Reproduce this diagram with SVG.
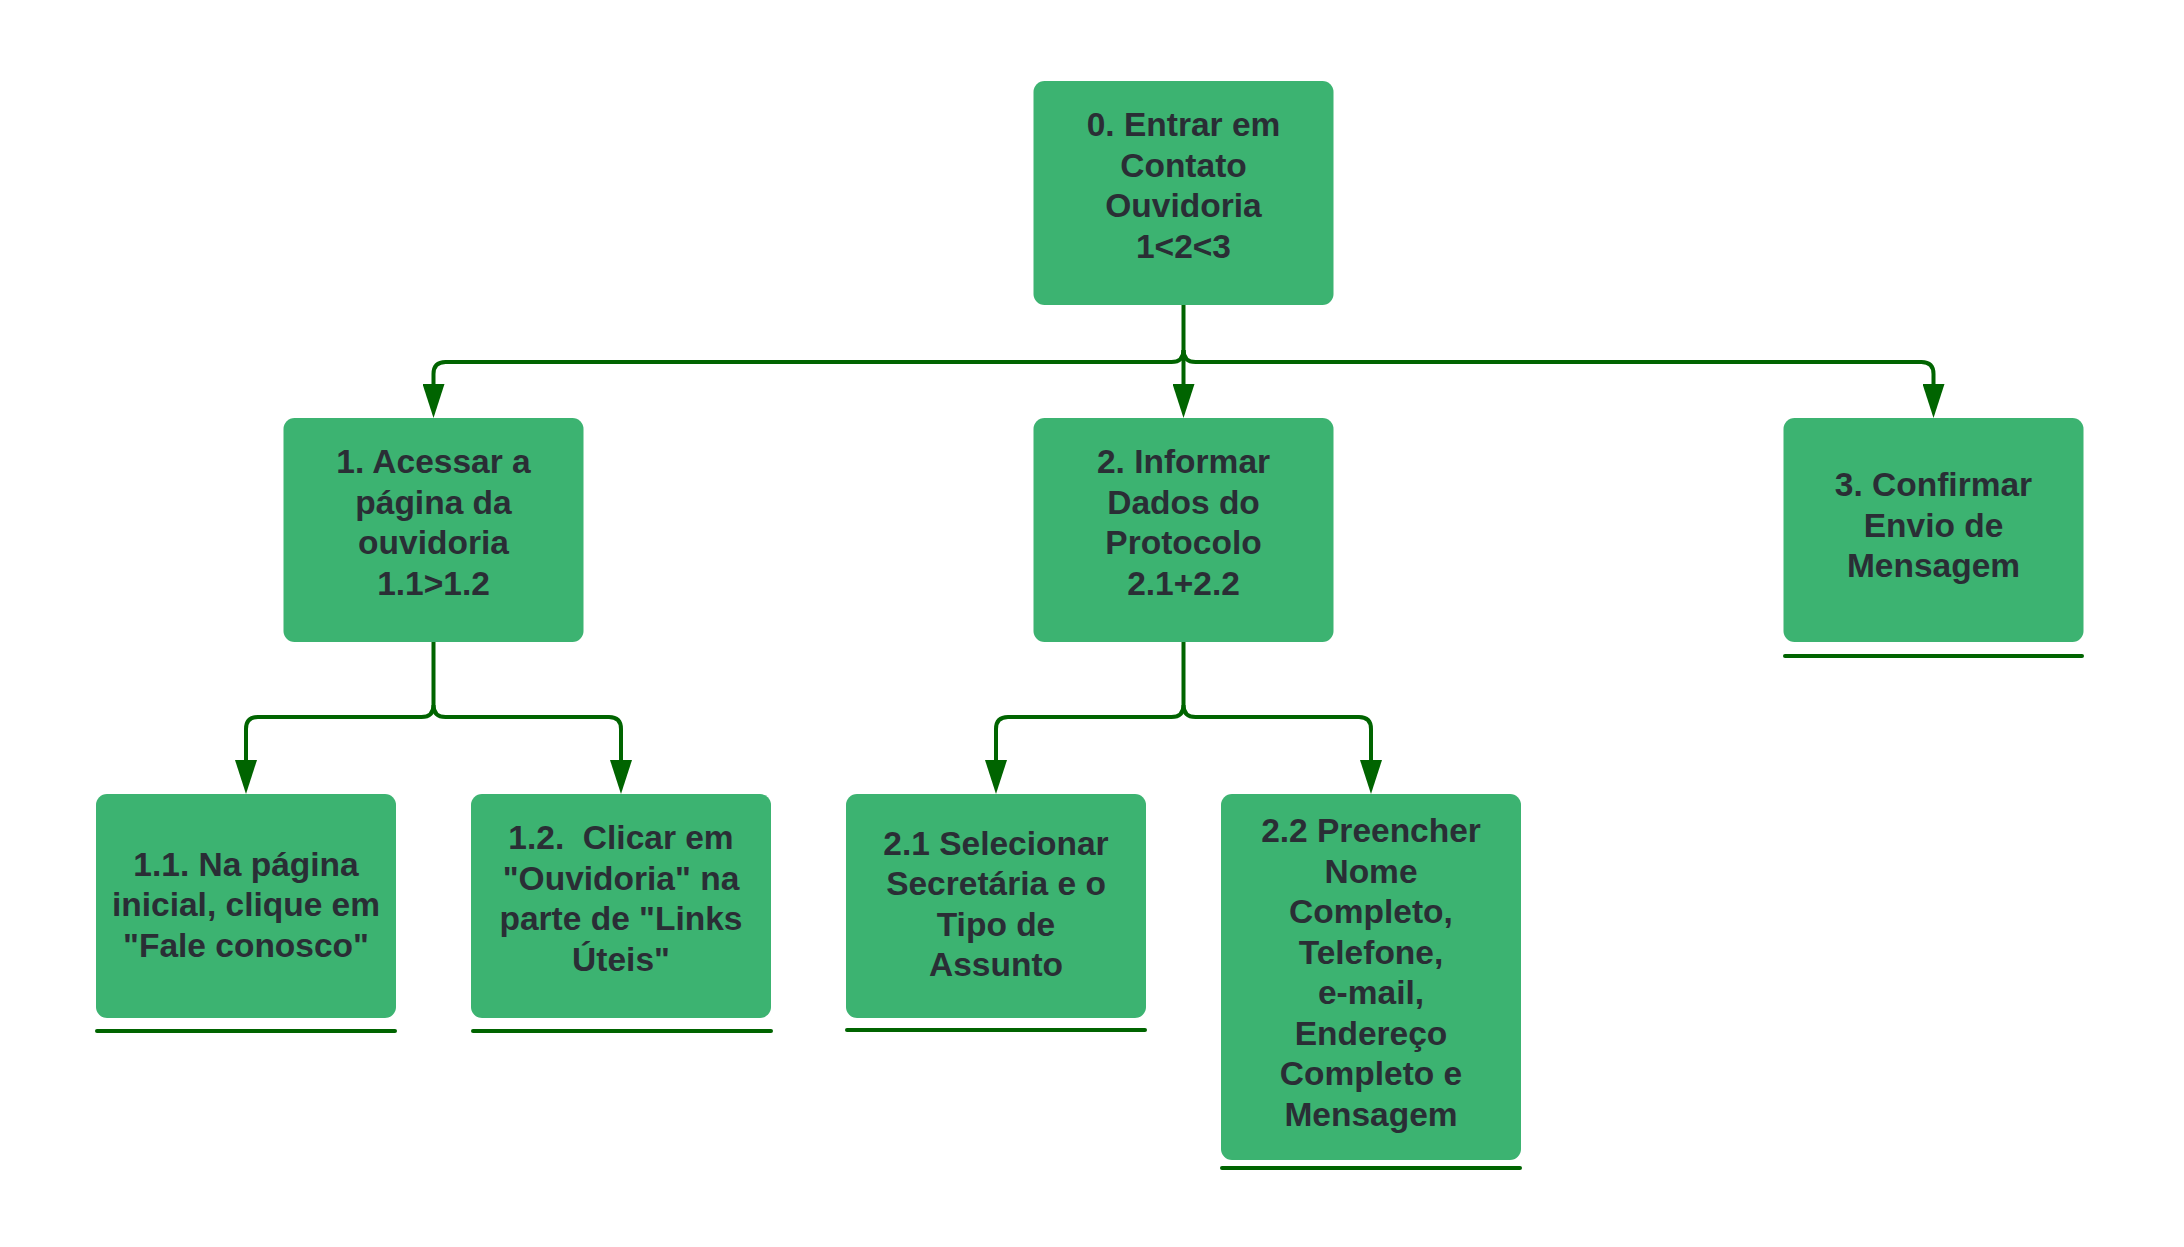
<svg xmlns="http://www.w3.org/2000/svg" width="2184" height="1247" viewBox="0 0 2184 1247">
<style>
.box{fill:#3cb371;}
.lbl{font-family:"Liberation Sans",Arial,sans-serif;font-weight:bold;font-size:33.5px;fill:#2a2e35;text-anchor:middle;}
.con{fill:none;stroke:#006400;stroke-width:4;}
.ul{stroke:#006400;stroke-width:4;stroke-linecap:round;}
</style>
<defs>
<marker id="arr" markerUnits="userSpaceOnUse" markerWidth="34" markerHeight="22" viewBox="0 0 34 22" refX="16" refY="11" orient="auto">
<path d="M0,0 L34,11 L0,22 z" fill="#006400"/>
</marker>
</defs>
<rect width="2184" height="1247" fill="#ffffff"/>
<g id="connectors">
<path class="con" d="M1183.5 305 V400" marker-end="url(#arr)"/>
<path class="con" d="M1183.5 350 Q1183.5 362 1171.5 362 H445.5 Q433.5 362 433.5 374 V400" marker-end="url(#arr)"/>
<path class="con" d="M1183.5 350 Q1183.5 362 1195.5 362 H1921.5 Q1933.5 362 1933.5 374 V400" marker-end="url(#arr)"/>
<path class="con" d="M433.5 642 V705 Q433.5 717 421.5 717 H258 Q246 717 246 729 V776" marker-end="url(#arr)"/>
<path class="con" d="M433.5 705 Q433.5 717 445.5 717 H609 Q621 717 621 729 V776" marker-end="url(#arr)"/>
<path class="con" d="M1183.5 642 V705 Q1183.5 717 1171.5 717 H1008 Q996 717 996 729 V776" marker-end="url(#arr)"/>
<path class="con" d="M1183.5 705 Q1183.5 717 1195.5 717 H1359 Q1371 717 1371 729 V776" marker-end="url(#arr)"/>
</g>
<g id="node0">
<rect class="box" x="1033.5" y="81" width="300" height="224" rx="11"/>
<text class="lbl"><tspan x="1183.5" y="136">0. Entrar em</tspan><tspan x="1183.5" y="176.5">Contato</tspan><tspan x="1183.5" y="217">Ouvidoria</tspan><tspan x="1183.5" y="257.5">1&lt;2&lt;3</tspan></text>
</g>
<g id="node1">
<rect class="box" x="283.5" y="418" width="300" height="224" rx="11"/>
<text class="lbl"><tspan x="433.5" y="473">1. Acessar a</tspan><tspan x="433.5" y="513.5">página da</tspan><tspan x="433.5" y="554">ouvidoria</tspan><tspan x="433.5" y="594.5">1.1&gt;1.2</tspan></text>
</g>
<g id="node2">
<rect class="box" x="1033.5" y="418" width="300" height="224" rx="11"/>
<text class="lbl"><tspan x="1183.5" y="473">2. Informar</tspan><tspan x="1183.5" y="513.5">Dados do</tspan><tspan x="1183.5" y="554">Protocolo</tspan><tspan x="1183.5" y="594.5">2.1+2.2</tspan></text>
</g>
<g id="node3">
<rect class="box" x="1783.5" y="418" width="300" height="224" rx="11"/>
<text class="lbl"><tspan x="1933.5" y="496">3. Confirmar</tspan><tspan x="1933.5" y="536.5">Envio de</tspan><tspan x="1933.5" y="577">Mensagem</tspan></text>
<line class="ul" x1="1785" y1="656" x2="2082" y2="656"/>
</g>
<g id="node1_1">
<rect class="box" x="96" y="794" width="300" height="224" rx="11"/>
<text class="lbl"><tspan x="246" y="875.5">1.1. Na página</tspan><tspan x="246" y="916">inicial, clique em</tspan><tspan x="246" y="956.5">"Fale conosco"</tspan></text>
<line class="ul" x1="97" y1="1031" x2="395" y2="1031"/>
</g>
<g id="node1_2">
<rect class="box" x="471" y="794" width="300" height="224" rx="11"/>
<text class="lbl"><tspan x="621" y="849">1.2.&#160; Clicar em</tspan><tspan x="621" y="889.5">"Ouvidoria" na</tspan><tspan x="621" y="930">parte de "Links</tspan><tspan x="621" y="970.5">Úteis"</tspan></text>
<line class="ul" x1="473" y1="1031" x2="771" y2="1031"/>
</g>
<g id="node2_1">
<rect class="box" x="846" y="794" width="300" height="224" rx="11"/>
<text class="lbl"><tspan x="996" y="854.5">2.1 Selecionar</tspan><tspan x="996" y="895">Secretária e o</tspan><tspan x="996" y="935.5">Tipo de</tspan><tspan x="996" y="976">Assunto</tspan></text>
<line class="ul" x1="847" y1="1030" x2="1145" y2="1030"/>
</g>
<g id="node2_2">
<rect class="box" x="1221" y="794" width="300" height="366" rx="11"/>
<text class="lbl"><tspan x="1371" y="842">2.2 Preencher</tspan><tspan x="1371" y="882.5">Nome</tspan><tspan x="1371" y="923">Completo,</tspan><tspan x="1371" y="963.5">Telefone,</tspan><tspan x="1371" y="1004">e-mail,</tspan><tspan x="1371" y="1044.5">Endereço</tspan><tspan x="1371" y="1085">Completo e</tspan><tspan x="1371" y="1125.5">Mensagem</tspan></text>
<line class="ul" x1="1222" y1="1168" x2="1520" y2="1168"/>
</g>
</svg>
